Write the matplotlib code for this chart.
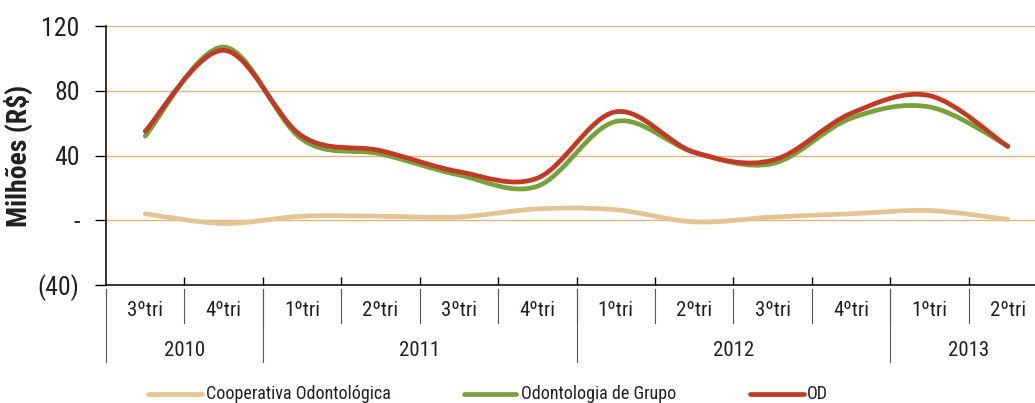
import matplotlib

matplotlib.use("Agg")

import matplotlib.pyplot as plt
import numpy as np
from matplotlib import font_manager
from matplotlib.lines import Line2D
from matplotlib.path import Path
from matplotlib.patches import PathPatch
from matplotlib.transforms import blended_transform_factory

quarters = ["3ºtri", "4ºtri", "1ºtri", "2ºtri", "3ºtri", "4ºtri",
            "1ºtri", "2ºtri", "3ºtri", "4ºtri", "1ºtri", "2ºtri"]
years = ["2010", "2011", "2012", "2013"]
quarters_per_year = [2, 4, 4, 2]

cooperativa = [4, -2, 2.5, 2.5, 2, 7, 6.5, -1, 2, 4, 6, 0.5]
grupo = [52, 107, 50, 41, 28, 21, 61, 42, 35, 63, 70, 46]
od = [55, 105, 52, 43, 30, 26, 67, 42, 37, 66, 77, 45.5]

series = [
    ("Cooperativa Odontológica", cooperativa, "#E6C393"),
    ("Odontologia de Grupo", grupo, "#77A23B"),
    ("OD", od, "#C23A26"),
]

# pick a narrow face if one is installed, else condensed DejaVu
installed = {f.name for f in font_manager.fontManager.ttflist}
narrow = [n for n in ["Liberation Sans Narrow", "Roboto Condensed", "Open Sans Condensed",
                      "Noto Sans Condensed", "DejaVu Sans Condensed"] if n in installed]
if narrow:
    plt.rcParams["font.family"] = [narrow[0], "DejaVu Sans"]
else:
    plt.rcParams["font.family"] = ["DejaVu Sans"]
    plt.rcParams["font.stretch"] = "condensed"
TEXT = "#231F20"


def smooth_path(x, y):
    # Catmull-Rom curve expressed as cubic Bezier segments (Excel "smoothed line")
    pts = np.column_stack([x, y]).astype(float)
    ext = np.vstack([pts[0], pts, pts[-1]])
    verts = [pts[0]]
    codes = [Path.MOVETO]
    for i in range(1, len(ext) - 2):
        p0, p1, p2, p3 = ext[i - 1], ext[i], ext[i + 1], ext[i + 2]
        verts += [p1 + (p2 - p0) / 6.0, p2 - (p3 - p1) / 6.0, p2]
        codes += [Path.CURVE4] * 3
    return Path(verts, codes)


W, H = 1035, 403
fig = plt.figure(figsize=(W / 100, H / 100), dpi=100)
left, right, top, bottom = 106, 1047, 26, 285
ax = fig.add_axes([left / W, (H - bottom) / H, (right - left) / W, (bottom - top) / H])

x = np.arange(len(quarters))
ax.set_xlim(-0.5, len(quarters) - 0.5)
ax.set_ylim(-40, 120)
ax.set_yticks([-40, 0, 40, 80, 120])
ax.set_yticklabels(["(40)", "-", "40", "80", "120"], fontsize=18.5, color=TEXT)
ax.tick_params(axis="y", length=8, width=1, pad=11, direction="out")

for v in [0, 40, 80, 120]:
    ax.axhline(v, color="#E2B57F", linewidth=1.0, zorder=1)

for spine in ["top", "right"]:
    ax.spines[spine].set_visible(False)
ax.spines["left"].set_linewidth(1.1)
ax.spines["bottom"].set_linewidth(1.1)

ax.set_xticks(np.arange(len(quarters) - 1) + 0.5)
ax.set_xticklabels([])
ax.tick_params(axis="x", length=6, width=1, direction="in")

for name, vals, color in series:
    patch = PathPatch(smooth_path(x, vals), facecolor="none", edgecolor=color,
                      linewidth=3.4, capstyle="round", joinstyle="round", zorder=3)
    ax.add_patch(patch)

ax.set_ylabel("Milhões (R$)", fontsize=20, fontweight="bold", color=TEXT)
ax.yaxis.set_label_coords(-0.078, 0.5)

# two-level category axis
trans = blended_transform_factory(ax.transData, ax.transAxes)
ax_h = bottom - top
y_sep_top = -4 / ax_h
y_cat_bot = -38 / ax_h
y_year_bot = -77 / ax_h
for i, q in enumerate(quarters):
    ax.text(i, -26 / ax_h, q, transform=trans, ha="center", va="center",
            fontsize=15, color=TEXT)
for b in range(1, len(quarters)):
    ax.plot([b - 0.5, b - 0.5], [y_sep_top, y_cat_bot], transform=trans,
            color="#555555", linewidth=0.8, clip_on=False)

bounds = [0]
for n in quarters_per_year:
    bounds.append(bounds[-1] + n)
for k, yr in enumerate(years):
    a, b = bounds[k], bounds[k + 1]
    ax.text((a + b - 1) / 2, -65 / ax_h, yr, transform=trans, ha="center",
            va="center", fontsize=15, color=TEXT)
for b in bounds[:-1]:
    ax.plot([b - 0.5, b - 0.5], [y_sep_top, y_year_bot], transform=trans,
            color="#555555", linewidth=0.8, clip_on=False)

# legend
leg_y = (H - 394) / H
legend_pos = [(148, 202, 206), (464, 516, 521), (750, 804, 807)]
for (name, vals, color), (x0, x1, tx) in zip(series, legend_pos):
    fig.add_artist(Line2D([x0 / W, x1 / W], [leg_y, leg_y], transform=fig.transFigure,
                          color=color, linewidth=3.4, solid_capstyle="round"))
    fig.text(tx / W, leg_y, name, ha="left", va="center", fontsize=13, color=TEXT)

fig.savefig("out.png", dpi=100, facecolor="white")
